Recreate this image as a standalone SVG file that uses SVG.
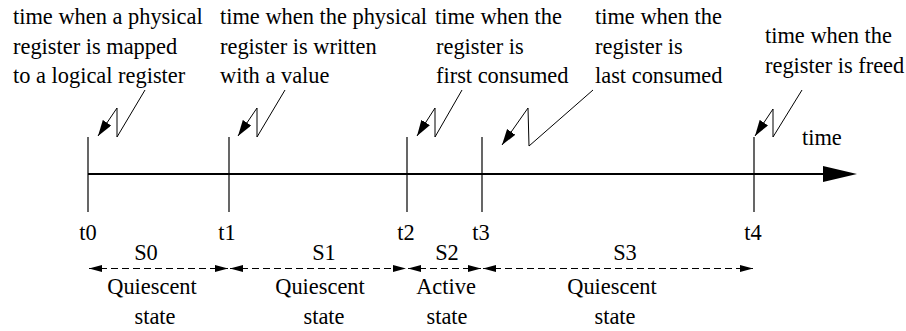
<svg xmlns="http://www.w3.org/2000/svg" width="906" height="331" viewBox="0 0 906 331">
<style>
text{fill:#000}
.m{text-anchor:middle}
.tick{stroke:#000;stroke-width:1.2;fill:none}
.bolt{stroke:#000;stroke-width:1;fill:none;marker-end:url(#bh)}
.dash{stroke:#000;stroke-width:1.1;fill:none;stroke-dasharray:7 4;marker-start:url(#ds);marker-end:url(#de)}
</style>
<defs>
<marker id="bh" markerUnits="userSpaceOnUse" markerWidth="17" markerHeight="11" refX="16" refY="5" orient="auto">
<path d="M0,0 L16,5 L0,10 z" fill="#000"/>
</marker>
<marker id="de" markerUnits="userSpaceOnUse" markerWidth="14" markerHeight="8" refX="13" refY="3.5" orient="auto">
<path d="M0,0 L13,3.5 L0,7 z" fill="#000"/>
</marker>
<marker id="ds" markerUnits="userSpaceOnUse" markerWidth="14" markerHeight="8" refX="0" refY="3.5" orient="auto">
<path d="M13,0 L0,3.5 L13,7 z" fill="#000"/>
</marker>
</defs>

<g id="axis">
<line x1="88" y1="174" x2="824" y2="174" stroke="#000" stroke-width="2"/>
<path d="M823,166 L857,174 L823,182 z" fill="#000"/>
<text font-family="Liberation Serif" font-size="22.4" x="802" y="145">time</text>
</g>

<g id="t0">
<line class="tick" x1="88" y1="137" x2="88" y2="212"/>
<text font-family="Liberation Serif" font-size="22.4" class="m" x="88" y="240">t0</text>
</g>
<g id="t1">
<line class="tick" x1="229" y1="137" x2="229" y2="212"/>
<text font-family="Liberation Serif" font-size="22.4" class="m" x="227" y="240">t1</text>
</g>
<g id="t2">
<line class="tick" x1="407" y1="137" x2="407" y2="212"/>
<text font-family="Liberation Serif" font-size="22.4" class="m" x="406" y="240">t2</text>
</g>
<g id="t3">
<line class="tick" x1="482" y1="137" x2="482" y2="212"/>
<text font-family="Liberation Serif" font-size="22.4" class="m" x="481" y="240">t3</text>
</g>
<g id="t4">
<line class="tick" x1="754" y1="137" x2="754" y2="212"/>
<text font-family="Liberation Serif" font-size="22.4" class="m" x="753" y="240">t4</text>
</g>

<g id="note0">
<text font-family="Liberation Serif" font-size="22.4" x="13" y="24">time when a physical</text>
<text font-family="Liberation Serif" font-size="22.4" x="13" y="53.5">register is mapped</text>
<text font-family="Liberation Serif" font-size="22.4" x="13" y="83">to a logical register</text>
</g>
<g id="note1">
<text font-family="Liberation Serif" font-size="22.4" x="220" y="24">time when the physical</text>
<text font-family="Liberation Serif" font-size="22.4" x="220" y="53.5">register is written</text>
<text font-family="Liberation Serif" font-size="22.4" x="220" y="83">with a value</text>
</g>
<g id="note2">
<text font-family="Liberation Serif" font-size="22.4" x="435" y="24">time when the</text>
<text font-family="Liberation Serif" font-size="22.4" x="436" y="53.5">register is</text>
<text font-family="Liberation Serif" font-size="22.4" x="436" y="83">first consumed</text>
</g>
<g id="note3">
<text font-family="Liberation Serif" font-size="22.4" x="595" y="24">time when the</text>
<text font-family="Liberation Serif" font-size="22.4" x="595" y="53.5">register is</text>
<text font-family="Liberation Serif" font-size="22.4" x="595" y="83">last consumed</text>
</g>
<g id="note4">
<text font-family="Liberation Serif" font-size="22.4" x="765" y="43">time when the</text>
<text font-family="Liberation Serif" font-size="22.4" x="765" y="73">register is freed</text>
</g>

<g id="s0">
<text font-family="Liberation Serif" font-size="22.4" class="m" x="146" y="260">S0</text>
<text font-family="Liberation Serif" font-size="22.4" class="m" x="152" y="294">Quiescent</text>
<text font-family="Liberation Serif" font-size="22.4" class="m" x="155" y="324">state</text>
</g>
<g id="s1">
<text font-family="Liberation Serif" font-size="22.4" class="m" x="324" y="260">S1</text>
<text font-family="Liberation Serif" font-size="22.4" class="m" x="320" y="294">Quiescent</text>
<text font-family="Liberation Serif" font-size="22.4" class="m" x="324" y="324">state</text>
</g>
<g id="s2">
<text font-family="Liberation Serif" font-size="22.4" class="m" x="447" y="260">S2</text>
<text font-family="Liberation Serif" font-size="22.4" class="m" x="446" y="294">Active</text>
<text font-family="Liberation Serif" font-size="22.4" class="m" x="447" y="324">state</text>
</g>
<g id="s3">
<text font-family="Liberation Serif" font-size="22.4" class="m" x="625" y="260">S3</text>
<text font-family="Liberation Serif" font-size="22.4" class="m" x="612" y="294">Quiescent</text>
<text font-family="Liberation Serif" font-size="22.4" class="m" x="615" y="324">state</text>
</g>

<g id="connectors">
<path class="bolt" d="M145,90 L117,137 L117,108 L98,136"/>
<path class="bolt" d="M285,90 L257,137 L257,108 L238,136"/>
<path class="bolt" d="M462,90 L435,137 L435,108 L417,136"/>
<path class="bolt" d="M593,90 L529,146 L528,108 L502,145"/>
<path class="bolt" d="M802,90 L773,137 L773,109 L755,136"/>
<line class="dash" x1="89" y1="268.5" x2="228" y2="268.5"/>
<line class="dash" x1="230" y1="268.5" x2="406" y2="268.5"/>
<line class="dash" x1="408" y1="268.5" x2="481" y2="268.5"/>
<line class="dash" x1="483" y1="268.5" x2="753" y2="268.5"/>
</g>
</svg>
